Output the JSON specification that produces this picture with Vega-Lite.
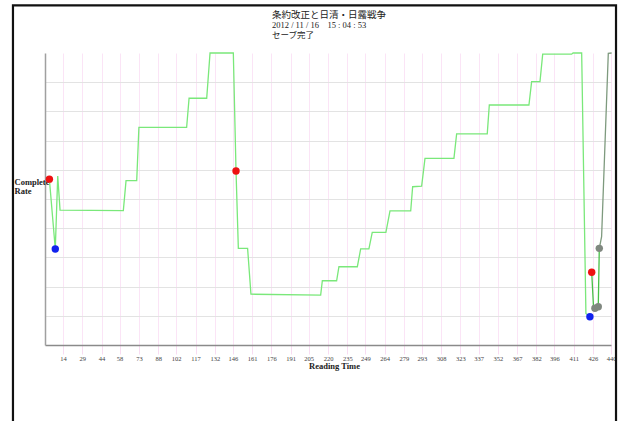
{
  "$schema": "https://vega.github.io/schema/vega-lite/v6.json",
  "autosize": {"type": "none"},
  "padding": {"left": 45, "top": 53, "right": 11, "bottom": 76},
  "width": 566,
  "height": 292,
  "background": "white",
  "config": {
    "view": {"stroke": null},
    "axisX": {
      "labelFont": "Liberation Serif", "labelFontSize": 6.5, "labelColor": "#444444",
      "labelFlush": false, "labelPadding": 1, "labelOverlap": false,
      "tickColor": "#f8dcf2", "tickSize": 9, "tickWidth": 1,
      "grid": true, "gridColor": "#fbe4f6", "gridWidth": 1,
      "domainColor": "#8a8a8a", "domainWidth": 1.5,
      "titleFont": "Liberation Serif", "titleFontSize": 8.5,
      "titleFontWeight": "bold", "titleColor": "#222222",
      "titleX": 289, "titleY": 23, "titleBaseline": "alphabetic"
    },
    "axisY": {
      "labels": false, "ticks": false,
      "grid": true, "gridColor": "#e3e3e3", "gridWidth": 1,
      "domainColor": "#a0a0a0", "domainWidth": 1.5,
      "titleAngle": 0, "titleAlign": "left",
      "titleBaseline": "alphabetic", "titleX": -31, "titleY": 131,
      "titleFont": "Liberation Serif", "titleFontSize": 8.5, "titleFontWeight": "bold",
      "titleColor": "#222222", "titleLineHeight": 9
    }
  },
  "title": {
    "text": "条約改正と日清・日露戦争",
    "subtitle": ["2012 / 11 / 16\u00a0\u00a0\u00a0\u00a015 : 04 : 53", "セーブ完了"],
    "anchor": "start",
    "frame": "group",
    "dx": 227,
    "font": "Noto Sans CJK JP",
    "fontSize": 9.5,
    "fontWeight": "normal",
    "color": "#222222",
    "subtitleFont": "Liberation Serif, Noto Sans CJK JP",
    "subtitleFontSize": 8.5,
    "subtitleColor": "#222222",
    "subtitleLineHeight": 10,
    "subtitlePadding": 1,
    "offset": -35
  },
  "datasets": {
    "main": [
      {"t": 3.4, "rate": 56.8, "series": "a"},
      {"t": 8, "rate": 32.9, "series": "a"},
      {"t": 9.9, "rate": 57.9, "series": "a"},
      {"t": 11.7, "rate": 46.2, "series": "a"},
      {"t": 60.9, "rate": 46, "series": "a"},
      {"t": 63, "rate": 56.3, "series": "a"},
      {"t": 71.3, "rate": 56.3, "series": "a"},
      {"t": 73, "rate": 74.5, "series": "a"},
      {"t": 110.1, "rate": 74.5, "series": "a"},
      {"t": 112, "rate": 84.5, "series": "a"},
      {"t": 125.7, "rate": 84.5, "series": "a"},
      {"t": 128.3, "rate": 100, "series": "a"},
      {"t": 146.4, "rate": 100, "series": "a"},
      {"t": 148.5, "rate": 59.6, "series": "a"},
      {"t": 150.3, "rate": 33.1, "series": "a"},
      {"t": 157.5, "rate": 33.1, "series": "a"},
      {"t": 160.1, "rate": 17.4, "series": "a"},
      {"t": 214.3, "rate": 17.1, "series": "a"},
      {"t": 215.6, "rate": 22, "series": "a"},
      {"t": 226.7, "rate": 22, "series": "a"},
      {"t": 228.5, "rate": 26.8, "series": "a"},
      {"t": 242.8, "rate": 26.8, "series": "a"},
      {"t": 245.4, "rate": 32.9, "series": "a"},
      {"t": 251.8, "rate": 32.9, "series": "a"},
      {"t": 254.4, "rate": 38.6, "series": "a"},
      {"t": 265, "rate": 38.6, "series": "a"},
      {"t": 268.2, "rate": 45.9, "series": "a"},
      {"t": 284.3, "rate": 45.9, "series": "a"},
      {"t": 285.8, "rate": 54.2, "series": "a"},
      {"t": 292.8, "rate": 54.4, "series": "a"},
      {"t": 295.4, "rate": 63.9, "series": "a"},
      {"t": 317.9, "rate": 63.9, "series": "a"},
      {"t": 320, "rate": 72.3, "series": "a"},
      {"t": 343.8, "rate": 72.3, "series": "a"},
      {"t": 345.4, "rate": 82.2, "series": "a"},
      {"t": 376.2, "rate": 82.2, "series": "a"},
      {"t": 378.3, "rate": 90.2, "series": "a"},
      {"t": 384.8, "rate": 90.2, "series": "a"},
      {"t": 386.9, "rate": 99.6, "series": "a"},
      {"t": 409.4, "rate": 99.6, "series": "a"},
      {"t": 410.5, "rate": 100, "series": "a"},
      {"t": 417.2, "rate": 100, "series": "a"},
      {"t": 420.5, "rate": 10.8, "series": "a"},
      {"t": 423.6, "rate": 9.7, "series": "a"},
      {"t": 425, "rate": 24.9, "series": "b"},
      {"t": 426.5, "rate": 12.2, "series": "b"},
      {"t": 430.1, "rate": 13.1, "series": "b"},
      {"t": 430.9, "rate": 33.1, "series": "b"},
      {"t": 430.9, "rate": 33.1, "series": "c"},
      {"t": 432.7, "rate": 37.1, "series": "c"},
      {"t": 437.9, "rate": 99.9, "series": "c"},
      {"t": 440.5, "rate": 100, "series": "c"}
    ],
    "dots": [
      {"t": 3.4, "rate": 56.8, "kind": "start"},
      {"t": 8, "rate": 32.9, "kind": "low"},
      {"t": 148.5, "rate": 59.6, "kind": "start"},
      {"t": 423.6, "rate": 9.7, "kind": "low"},
      {"t": 425, "rate": 24.9, "kind": "start"},
      {"t": 427.5, "rate": 12.6, "kind": "other"},
      {"t": 430.1, "rate": 13.1, "kind": "other"},
      {"t": 430.9, "rate": 33.1, "kind": "other"}
    ]
  },
  "layer": [
    {
      "data": {"values": [{}]},
      "mark": {"type": "rect", "fill": null, "stroke": "#111111", "strokeWidth": 2.2, "clip": false},
      "encoding": {
        "x": {"datum": -24.9, "type": "quantitative", "scale": {"domain": [0, 440], "nice": false, "zero": false},
          "axis": {"title": "Reading Time", "values": [14, 29, 44, 58, 73, 88, 102, 117, 132, 146, 161, 176, 191, 205, 220, 235, 249, 264, 279, 293, 308, 323, 337, 352, 367, 382, 396, 411, 426, 440]}},
        "x2": {"datum": 443.9},
        "y": {"datum": 116.3, "type": "quantitative", "scale": {"domain": [0, 100], "nice": false, "zero": false},
          "axis": {"title": ["Complete", "Rate"], "values": [10, 20, 30, 40, 50, 60, 70, 80, 90]}},
        "y2": {"datum": -40}
      }
    },
    {
      "data": {"name": "main"},
      "mark": {"type": "line", "strokeWidth": 1.3, "interpolate": "linear"},
      "encoding": {
        "x": {"field": "t", "type": "quantitative", "scale": {"domain": [0, 440], "nice": false, "zero": false},
          "axis": {"title": "Reading Time", "values": [14, 29, 44, 58, 73, 88, 102, 117, 132, 146, 161, 176, 191, 205, 220, 235, 249, 264, 279, 293, 308, 323, 337, 352, 367, 382, 396, 411, 426, 440]}},
        "y": {"field": "rate", "type": "quantitative", "scale": {"domain": [0, 100], "nice": false, "zero": false},
          "axis": {"title": ["Complete", "Rate"], "values": [10, 20, 30, 40, 50, 60, 70, 80, 90]}},
        "color": {
          "field": "series", "type": "nominal",
          "scale": {"domain": ["a", "b", "c"], "range": ["#7ae87a", "#48c048", "#7e9a7e"]},
          "legend": null
        },
        "detail": {"field": "series"}
      }
    },
    {
      "data": {"name": "dots"},
      "mark": {"type": "circle", "opacity": 1, "size": 55},
      "encoding": {
        "x": {"field": "t", "type": "quantitative", "scale": {"domain": [0, 440], "nice": false, "zero": false},
          "axis": {"title": "Reading Time", "values": [14, 29, 44, 58, 73, 88, 102, 117, 132, 146, 161, 176, 191, 205, 220, 235, 249, 264, 279, 293, 308, 323, 337, 352, 367, 382, 396, 411, 426, 440]}},
        "y": {"field": "rate", "type": "quantitative", "scale": {"domain": [0, 100], "nice": false, "zero": false},
          "axis": {"title": ["Complete", "Rate"], "values": [10, 20, 30, 40, 50, 60, 70, 80, 90]}},
        "fill": {
          "field": "kind", "type": "nominal",
          "scale": {"domain": ["start", "low", "other"], "range": ["#ee1111", "#1122ee", "#808880"]},
          "legend": null
        }
      }
    }
  ]
}
